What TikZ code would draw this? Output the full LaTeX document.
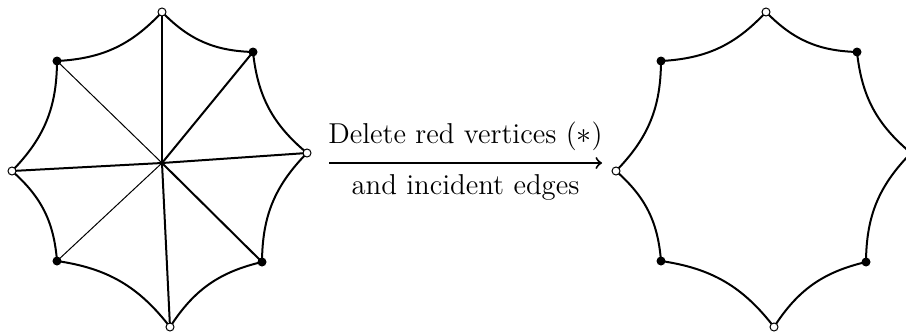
\documentclass[tikz,border=0pt]{standalone}
\usetikzlibrary{calc}

\begin{document}
\begin{tikzpicture}[x=0.4pt,y=0.4pt]
\clip (-162,-171) rectangle (744,163);
\coordinate (center) at (0,0);
\coordinate (top) at (0,151);
\coordinate (topright) at (91,111);
\coordinate (right) at (145,10);
\coordinate (bottomright) at (100,-99);
\coordinate (bottom) at (8,-164);
\coordinate (bottomleft) at (-105,-98);
\coordinate (left) at (-150,-8);
\coordinate (topleft) at (-105,102);

% spokes
\draw[thick] (center)--(top);
\draw[thick] (center)--(topright);
\draw[thick] (center)--(right);
\draw[thick] (center)--(bottomright);
\draw[thick] (center)--(bottom);
\draw[thick] (center)--(left);
\draw (center)--(topleft);
\draw (center)--(bottomleft);

\draw[thick] (top) to[bend right=22] (topright) to[bend right=22] (right)
  to[bend right=22] (bottomright) to[bend right=22] (bottom)
  to[bend right=22] (bottomleft) to[bend right=22] (left)
  to[bend right=22] (topleft) to[bend right=22] (top);

% the same cycle, shifted to the right
\coordinate (top2) at ($(top)+(604,0)$);
\coordinate (topright2) at ($(topright)+(604,0)$);
\coordinate (right2) at ($(right)+(604,0)$);
\coordinate (bottomright2) at ($(bottomright)+(604,0)$);
\coordinate (bottom2) at ($(bottom)+(604,0)$);
\coordinate (bottomleft2) at ($(bottomleft)+(604,0)$);
\coordinate (left2) at ($(left)+(604,0)$);
\coordinate (topleft2) at ($(topleft)+(604,0)$);

\draw[thick] (top2) to[bend right=22] (topright2) to[bend right=22] (right2)
  to[bend right=22] (bottomright2) to[bend right=22] (bottom2)
  to[bend right=22] (bottomleft2) to[bend right=22] (left2)
  to[bend right=22] (topleft2) to[bend right=22] (top2);

\fill (topright) circle (4.5);
\fill (bottomright) circle (4.5);
\fill (bottomleft) circle (4.5);
\fill (topleft) circle (4.5);
\fill (topright2) circle (4.5);
\fill (bottomright2) circle (4.5);
\fill (bottomleft2) circle (4.5);
\fill (topleft2) circle (4.5);
\filldraw[fill=white] (top) circle (4);
\filldraw[fill=white] (right) circle (4);
\filldraw[fill=white] (bottom) circle (4);
\filldraw[fill=white] (left) circle (4);
\filldraw[fill=white] (top2) circle (4);
\filldraw[fill=white] (right2) circle (4);
\filldraw[fill=white] (bottom2) circle (4);
\filldraw[fill=white] (left2) circle (4);

\coordinate (from) at (167,0);
\coordinate (to) at (440,0);
\draw[thick,->] (from)--(to)
  node[midway,above=1pt,font=\fontsize{11.5}{14}\selectfont] (del) {Delete red vertices ($*$)}
  node[midway,below=1pt,font=\fontsize{11.5}{14}\selectfont] (inc) {and incident edges};

\end{tikzpicture}
\end{document}
